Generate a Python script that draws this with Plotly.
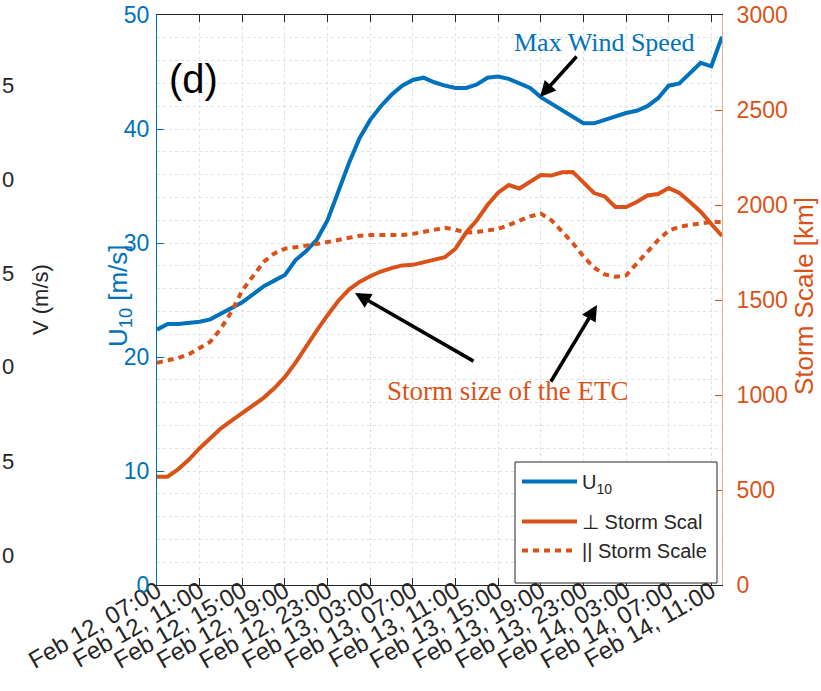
import pandas as pd
import plotly.graph_objects as go

# ---------------- data ----------------
times = pd.date_range("2020-02-12 07:00", periods=54, freq="h")

u10 = [22.4, 22.9, 22.9, 23.0, 23.1, 23.3, 23.8, 24.3, 24.8, 25.5,
       26.2, 26.7, 27.2, 28.5, 29.3, 30.3, 32.0, 34.5, 37.0, 39.2,
       40.8, 42.0, 43.0, 43.8, 44.3, 44.5, 44.1, 43.8, 43.6, 43.6,
       43.9, 44.5, 44.6, 44.4, 44.0, 43.6, 42.8, 42.2, 41.6, 41.0,
       40.5, 40.5, 40.8, 41.1, 41.4, 41.6, 42.0, 42.7, 43.8, 44.0,
       44.9, 45.8, 45.5, 48.1]

perp_scale = [570, 570, 610, 660, 720, 775, 825, 865, 905, 945,
              985, 1035, 1095, 1170, 1260, 1340, 1420, 1495, 1555, 1595,
              1625, 1650, 1668, 1682, 1685, 1698, 1710, 1725, 1770, 1855,
              1920, 2000, 2065, 2105, 2087, 2125, 2158, 2155, 2172, 2174,
              2121, 2063, 2045, 1990, 1989, 2016, 2050, 2058, 2089, 2063,
              2016, 1965, 1900, 1837]

par_scale = [1170, 1180, 1195, 1215, 1245, 1280, 1350, 1440, 1550, 1625,
             1700, 1745, 1770, 1778, 1785, 1795, 1805, 1815, 1825, 1838,
             1842, 1842, 1842, 1842, 1848, 1860, 1872, 1880, 1870, 1855,
             1858, 1865, 1874, 1895, 1920, 1940, 1955, 1920, 1860, 1800,
             1730, 1670, 1635, 1622, 1630, 1690, 1755, 1815, 1865, 1885,
             1895, 1902, 1910, 1910]

tick_labels = ["Feb 12, 07:00", "Feb 12, 11:00", "Feb 12, 15:00", "Feb 12, 19:00",
               "Feb 12, 23:00", "Feb 13, 03:00", "Feb 13, 07:00", "Feb 13, 11:00",
               "Feb 13, 15:00", "Feb 13, 19:00", "Feb 13, 23:00", "Feb 14, 03:00",
               "Feb 14, 07:00", "Feb 14, 11:00"]
tick_vals = list(times[::4])

# visible (cropped) tick digits of the neighbouring panel on the left
left_panel_ticks = ["5", "0", "5", "0", "5", "0"]

# ---------------- style ----------------
BLUE = "#0072BD"
ORANGE = "#D95319"
DARK = "#262626"
GRID = "#dde2ea"
SANS = "Liberation Sans, Arial, sans-serif"
SERIF = "Liberation Serif, Times New Roman, serif"

W, H = 821, 691
L, R, T, B = 157, 99, 15, 106
PW, PH = W - L - R, H - T - B


def px(xp):
    return (xp - L) / PW


def py(yp):
    return (H - B - yp) / PH


fig = go.Figure()
fig.add_trace(go.Scatter(x=times, y=u10, mode="lines", name="U<sub>10</sub>",
                         line=dict(color=BLUE, width=4), legendgroup="a"))
fig.add_trace(go.Scatter(x=times, y=perp_scale, mode="lines", name="\u22a5 Storm Scal",
                         line=dict(color=ORANGE, width=4), yaxis="y2", legendgroup="b"))
fig.add_trace(go.Scatter(x=times, y=par_scale, mode="lines", name="|| Storm Scale",
                         line=dict(color=ORANGE, width=4, dash="6px,5px"), yaxis="y2",
                         legendgroup="b"))

annotations = [
    dict(text="(d)", x=px(193), y=py(79), xref="paper", yref="paper", showarrow=False,
         xanchor="center", yanchor="middle",
         font=dict(family=SANS, size=40, color="black")),
    dict(text="Max Wind Speed", x=px(604), y=py(42), xref="paper", yref="paper",
         xanchor="center", yanchor="middle",
         showarrow=False, font=dict(family=SERIF, size=26, color=BLUE)),
    dict(text="Storm size of the ETC", x=px(507), y=py(391), xref="paper", yref="paper",
         xanchor="center", yanchor="middle",
         showarrow=False, font=dict(family=SERIF, size=27, color=ORANGE)),
    # arrows
    dict(text="", x=px(540), y=py(97), xref="paper", yref="paper", showarrow=True,
         ax=38, ay=-42, arrowhead=2, arrowsize=0.9, arrowwidth=3.5, arrowcolor="black"),
    dict(text="", x=px(355), y=py(293), xref="paper", yref="paper", showarrow=True,
         ax=120, ay=69, arrowhead=2, arrowsize=0.9, arrowwidth=3.5, arrowcolor="black"),
    dict(text="", x=px(597), y=py(305), xref="paper", yref="paper", showarrow=True,
         ax=-47, ay=78, arrowhead=2, arrowsize=0.9, arrowwidth=3.5, arrowcolor="black"),
    # axis titles
    dict(text="U<sub>10</sub> [m/s]", x=px(119), y=py(296), xref="paper", yref="paper",
         showarrow=False, textangle=-90, xanchor="center", yanchor="middle",
         font=dict(family=SANS, size=26, color=BLUE)),
    dict(text="Storm Scale [km]", x=px(804), y=py(296), xref="paper", yref="paper",
         showarrow=False, textangle=-90, xanchor="center", yanchor="middle",
         font=dict(family=SANS, size=26, color=ORANGE)),
    # partial neighbour panel on the left
    dict(text="V (m/s)", x=px(40), y=py(300), xref="paper", yref="paper", showarrow=False,
         textangle=-90, xanchor="center", yanchor="middle",
         font=dict(family=SANS, size=22, color=DARK)),
]
for i, lab in enumerate(left_panel_ticks):
    annotations.append(dict(text=lab, x=px(16), y=py(85 + 94 * i), xref="paper", yref="paper",
                            xanchor="right", yanchor="middle", showarrow=False,
                            font=dict(family=SANS, size=22, color=DARK)))

# legend frame (drawn as a shape so its size matches the original box)
shapes = [dict(type="rect", xref="paper", yref="paper",
               x0=px(515), x1=px(717), y0=py(583), y1=py(462),
               line=dict(color=DARK, width=1), fillcolor="white", layer="above")]

fig.update_layout(
    width=W, height=H,
    margin=dict(l=L, r=R, t=T, b=B, pad=0, autoexpand=False),
    paper_bgcolor="white", plot_bgcolor="white",
    font=dict(family=SANS, color=DARK),
    showlegend=True,
    legend=dict(x=px(712), y=py(462), xanchor="right", yanchor="top",
                bgcolor="rgba(0,0,0,0)", borderwidth=0,
                font=dict(family=SANS, size=20, color=DARK),
                itemwidth=55, tracegroupgap=11, traceorder="grouped"),
    xaxis=dict(
        range=[times[0], times[-1]], automargin=False,
        tickvals=tick_vals, ticktext=tick_labels, tickangle=-30,
        tickfont=dict(family=SANS, size=24, color=DARK),
        ticks="inside", ticklen=7, tickcolor=DARK, mirror="ticks",
        showline=True, linecolor=DARK, linewidth=1,
        showgrid=True, gridcolor=GRID, griddash="dot", gridwidth=1,
        zeroline=False, ticklabelstandoff=-18,
    ),
    yaxis=dict(
        range=[0, 50], dtick=10, automargin=False,
        tickfont=dict(family=SANS, size=23, color=BLUE),
        ticks="inside", ticklen=7, tickcolor=BLUE,
        showline=True, linecolor=BLUE, linewidth=1,
        showgrid=True, gridcolor=GRID, griddash="dot", gridwidth=1,
        minor=dict(dtick=2, showgrid=True, gridcolor=GRID, griddash="dot", ticks=""),
        zeroline=False, ticklabelstandoff=2,
    ),
    yaxis2=dict(
        range=[0, 3000], dtick=500, overlaying="y", side="right", automargin=False,
        tickfont=dict(family=SANS, size=23, color=ORANGE),
        ticks="inside", ticklen=7, tickcolor=ORANGE,
        showline=True, linecolor="#eea98a", linewidth=1,
        showgrid=False, zeroline=False, ticklabelstandoff=9,
    ),
    shapes=shapes,
    annotations=annotations,
)

fig.write_html("out.html")
